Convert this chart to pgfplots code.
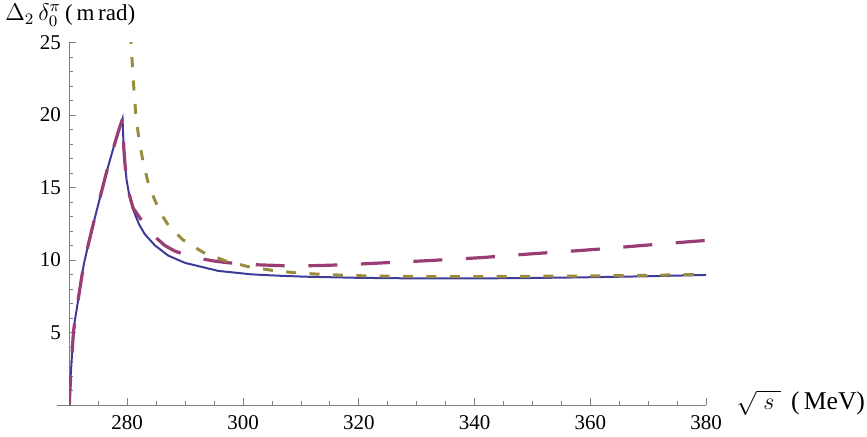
\documentclass[border=0pt]{standalone}
\usepackage{fontspec}
\setmainfont{Liberation Serif}
\usepackage{pgfplots}
\pgfplotsset{compat=1.18}
\definecolor{mblue}{RGB}{61,61,153}
\definecolor{mpurple}{RGB}{153,61,116}
\definecolor{molive}{RGB}{153,140,61}
\begin{document}
\fontsize{10.5}{12}\selectfont
\begin{tikzpicture}
\begin{axis}[
 scale only axis, width=318.45pt, height=181.25pt,
 xmin=270, xmax=380, ymin=0, ymax=25,
 axis x line*=bottom, axis y line*=left,
 axis line style={gray, line width=0.5pt},
 xtick={280,300,...,380}, minor xtick={270,275,...,380},
 ytick={5,10,...,25}, minor ytick={1,...,25},
 tick align=inside, major tick length=3.5pt, minor tick length=2pt,
 tick style={gray, line width=0.4pt},
 /pgf/number format/assume math mode=true,
 tick label style={font=\fontsize{10.5}{12}\selectfont},
 xticklabel style={yshift=-1.5pt},
 yticklabel style={xshift=-0.5pt},
]
\addplot[mblue, line width=1pt] coordinates {
(270.00,0) (270.05,0.5) (270.12,1.1) (270.25,2.1) (270.41,3.1) (270.55,4.0) (270.69,4.9) (270.95,5.8) (271.28,6.6) (271.85,8.1) (272.5,9.7) (273.3,11.1) (274.15,12.5) (275.3,14.3) (276.46,16.1) (277.6,17.7) (278.5,18.9) (279.2,19.75)
(279.3,18.6) (279.45,17.5) (279.62,16.6) (279.9,15.5) (280.3,14.6) (281.0,13.5) (282.0,12.5) (283.0,11.8) (284.8,11.0) (287.1,10.3) (290.0,9.8) (292.3,9.58) (295.7,9.25) (301.5,9.01) (306,8.92) (310.7,8.85) (320,8.77) (330,8.73) (340,8.73) (350,8.76) (358,8.8) (370,8.88) (380,8.97)
};
\addplot[mpurple, line width=1.6pt, dash pattern=on 14.5pt off 11.8pt] coordinates {
(270.00,0) (270.05,0.5) (270.12,1.1) (270.25,2.1) (270.41,3.1) (270.55,4.0) (270.69,4.9) (270.95,5.8) (271.28,6.6) (271.85,8.1) (272.5,9.7) (273.3,11.1) (274.15,12.5) (275.3,14.3) (276.46,16.1) (277.6,17.7) (278.5,18.9) (279.2,19.75)
(279.3,18.6) (279.45,17.5) (279.62,16.6) (279.9,15.5) (280.3,14.6) (281.0,13.6) (282.2,12.9) (283.5,12.15) (284.8,11.6) (286.5,11.0) (288.2,10.62) (290.5,10.3) (292.9,10.08) (295.0,9.93) (297.4,9.81) (301.8,9.68) (306.7,9.61) (310.3,9.6) (313.3,9.62) (318,9.68) (322.5,9.77) (331.7,9.95) (341,10.16) (349.6,10.42) (357.7,10.64) (361.1,10.74) (368,10.97) (377.3,11.27) (380,11.35)
};
\addplot[molive, line width=1.5pt, dash pattern=on 5pt off 6.7pt] coordinates {
(280.55,25.6) (280.66,25.0) (281.05,22.4) (281.47,20.1) (282.04,18.3) (282.78,16.7) (283.64,15.3) (284.8,14.1) (286.0,13.1) (287.1,12.4) (289.6,11.4) (293.1,10.53) (296.9,9.95) (300.9,9.54) (305,9.29) (309,9.12) (312.7,9.03) (316.7,8.96) (320.7,8.91) (325,8.88) (332,8.86) (341,8.86) (348,8.87) (356,8.89) (361,8.91) (369,8.94) (377,8.99) (380,9.01)
};
\end{axis}
\draw[gray, line width=0.5pt] (-6pt,0) -- (0,0);
\node[anchor=base west, inner sep=0pt, font=\fontsize{11.5}{13}\selectfont] at (-32.2pt,192.3pt) {$\Delta_{2}\,\delta^{\pi}_{0}$\hspace{2pt}(\,m\,rad)};
\node[anchor=base west, inner sep=0pt, font=\fontsize{12.8}{14}\selectfont] at (333.5pt,-2.2pt) {$\sqrt{\;s\;}$\hspace{5pt}(\,MeV)};
\pgfresetboundingbox
\path (-34.65pt,-15.5pt) rectangle (398.85pt,202.5pt);
\end{tikzpicture}
\end{document}
